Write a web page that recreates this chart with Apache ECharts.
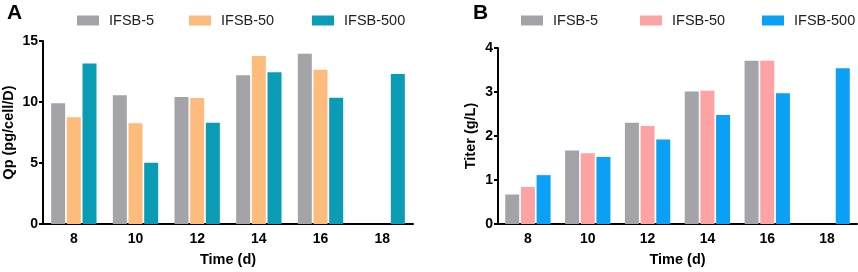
<!DOCTYPE html>
<html>
<head>
<meta charset="utf-8">
<script src="https://cdn.jsdelivr.net/npm/echarts@6/dist/echarts.min.js"></script>
<style>
  html, body { margin: 0; padding: 0; background: #fff; }
  #chart { width: 858px; height: 272px; }
</style>
</head>
<body>
<div id="chart"></div>
<script>
  // 시간(일)
  var days = ['8', '10', '12', '14', '16', '18'];
  var seriesNames = ['IFSB-5', 'IFSB-50', 'IFSB-500'];

  // A: Qp (pg/cell/D)
  var qp5 = [9.9, 10.55, 10.4, 12.2, 13.95, null];
  var qp50 = [8.75, 8.25, 10.33, 13.77, 12.65, null];
  var qp500 = [13.15, 5.02, 8.3, 12.43, 10.35, 12.3];

  // B: Titer (g/L)
  var titer5 = [0.67, 1.67, 2.3, 3.01, 3.71, null];
  var titer50 = [0.84, 1.61, 2.23, 3.03, 3.71, null];
  var titer500 = [1.11, 1.52, 1.92, 2.48, 2.97, 3.54];

  var qpTicks = [0, 5, 10, 15];
  var titerTicks = [0, 1, 2, 3, 4];

  var colorsA = ['#a4a3a8', '#fdbb7c', '#0a9cb5'];
  var colorsB = ['#a4a3a8', '#fda3a3', '#0aa0f5'];

  const font = 'Arial, "Liberation Sans", Helvetica, sans-serif';

  const makeLegend = (name, pos) => Object.assign({
    data: [name],
    top: 8,
    padding: [5, 0, 5, 0],
    itemWidth: 22,
    itemHeight: 10,
    icon: 'rect',
    selectedMode: false,
    textStyle: { fontFamily: font, fontSize: 14.5, color: '#222', padding: [0, 0, 0, 5] }
  }, pos);

  const makeXAxis = gridIndex => ({
    type: 'category',
    gridIndex: gridIndex,
    data: days,
    name: 'Time (d)',
    nameLocation: 'middle',
    nameGap: 28,
    nameTextStyle: { fontFamily: font, fontSize: 14.5, fontWeight: 'bold', color: '#000' },
    axisLine: { lineStyle: { color: '#000', width: 2 } },
    axisTick: { alignWithLabel: true, length: 4, lineStyle: { color: '#000', width: 2 } },
    axisLabel: { fontFamily: font, fontSize: 14, fontWeight: 'bold', color: '#000', margin: 8 }
  });

  const makeYAxis = (gridIndex, name, ticks, nameGap) => ({
    type: 'value',
    gridIndex: gridIndex,
    min: ticks[0],
    max: ticks[ticks.length - 1],
    interval: ticks[1] - ticks[0],
    name: name,
    nameLocation: 'middle',
    nameRotate: 90,
    nameGap: nameGap,
    nameTextStyle: { fontFamily: font, fontSize: 14.5, fontWeight: 'bold', color: '#000' },
    splitLine: { show: false },
    axisLine: { show: true, lineStyle: { color: '#000', width: 2 } },
    axisTick: { show: true, length: 4, lineStyle: { color: '#000', width: 2 } },
    axisLabel: { fontFamily: font, fontSize: 14, fontWeight: 'bold', color: '#000', margin: 5 }
  });

  const makeBar = (name, data, color, idx) => ({
    name: name,
    type: 'bar',
    xAxisIndex: idx,
    yAxisIndex: idx,
    data: data,
    barWidth: 14,
    barGap: '12%',
    itemStyle: { color: color }
  });

  let myChart = echarts.init(document.getElementById('chart'));
  let option = {
    animation: false,
    title: [
      { text: 'A', left: 2, top: -2, textStyle: { fontFamily: font, fontSize: 21, fontWeight: 'bold', color: '#000' } },
      { text: 'B', left: 468, top: -2, textStyle: { fontFamily: font, fontSize: 21, fontWeight: 'bold', color: '#000' } }
    ],
    legend: [
      makeLegend(seriesNames[0], { left: 77 }),
      makeLegend(seriesNames[1], { left: 189 }),
      makeLegend(seriesNames[2], { left: 312 }),
      makeLegend(seriesNames[0] + ' ', { left: 521 }),
      makeLegend(seriesNames[1] + ' ', { left: 640 }),
      makeLegend(seriesNames[2] + ' ', { left: 762 })
    ],
    grid: [
      { left: 43, top: 41, width: 370, height: 183 },
      { left: 498, top: 48, width: 359, height: 178 }
    ],
    xAxis: [makeXAxis(0), makeXAxis(1)],
    yAxis: [
      makeYAxis(0, 'Qp (pg/cell/D)', qpTicks, 27),
      makeYAxis(1, 'Titer (g/L)', titerTicks, 20)
    ],
    series: [
      makeBar(seriesNames[0], qp5, colorsA[0], 0),
      makeBar(seriesNames[1], qp50, colorsA[1], 0),
      makeBar(seriesNames[2], qp500, colorsA[2], 0),
      makeBar(seriesNames[0] + ' ', titer5, colorsB[0], 1),
      makeBar(seriesNames[1] + ' ', titer50, colorsB[1], 1),
      makeBar(seriesNames[2] + ' ', titer500, colorsB[2], 1)
    ]
  };

  option && myChart.setOption(option);
</script>
</body>
</html>
